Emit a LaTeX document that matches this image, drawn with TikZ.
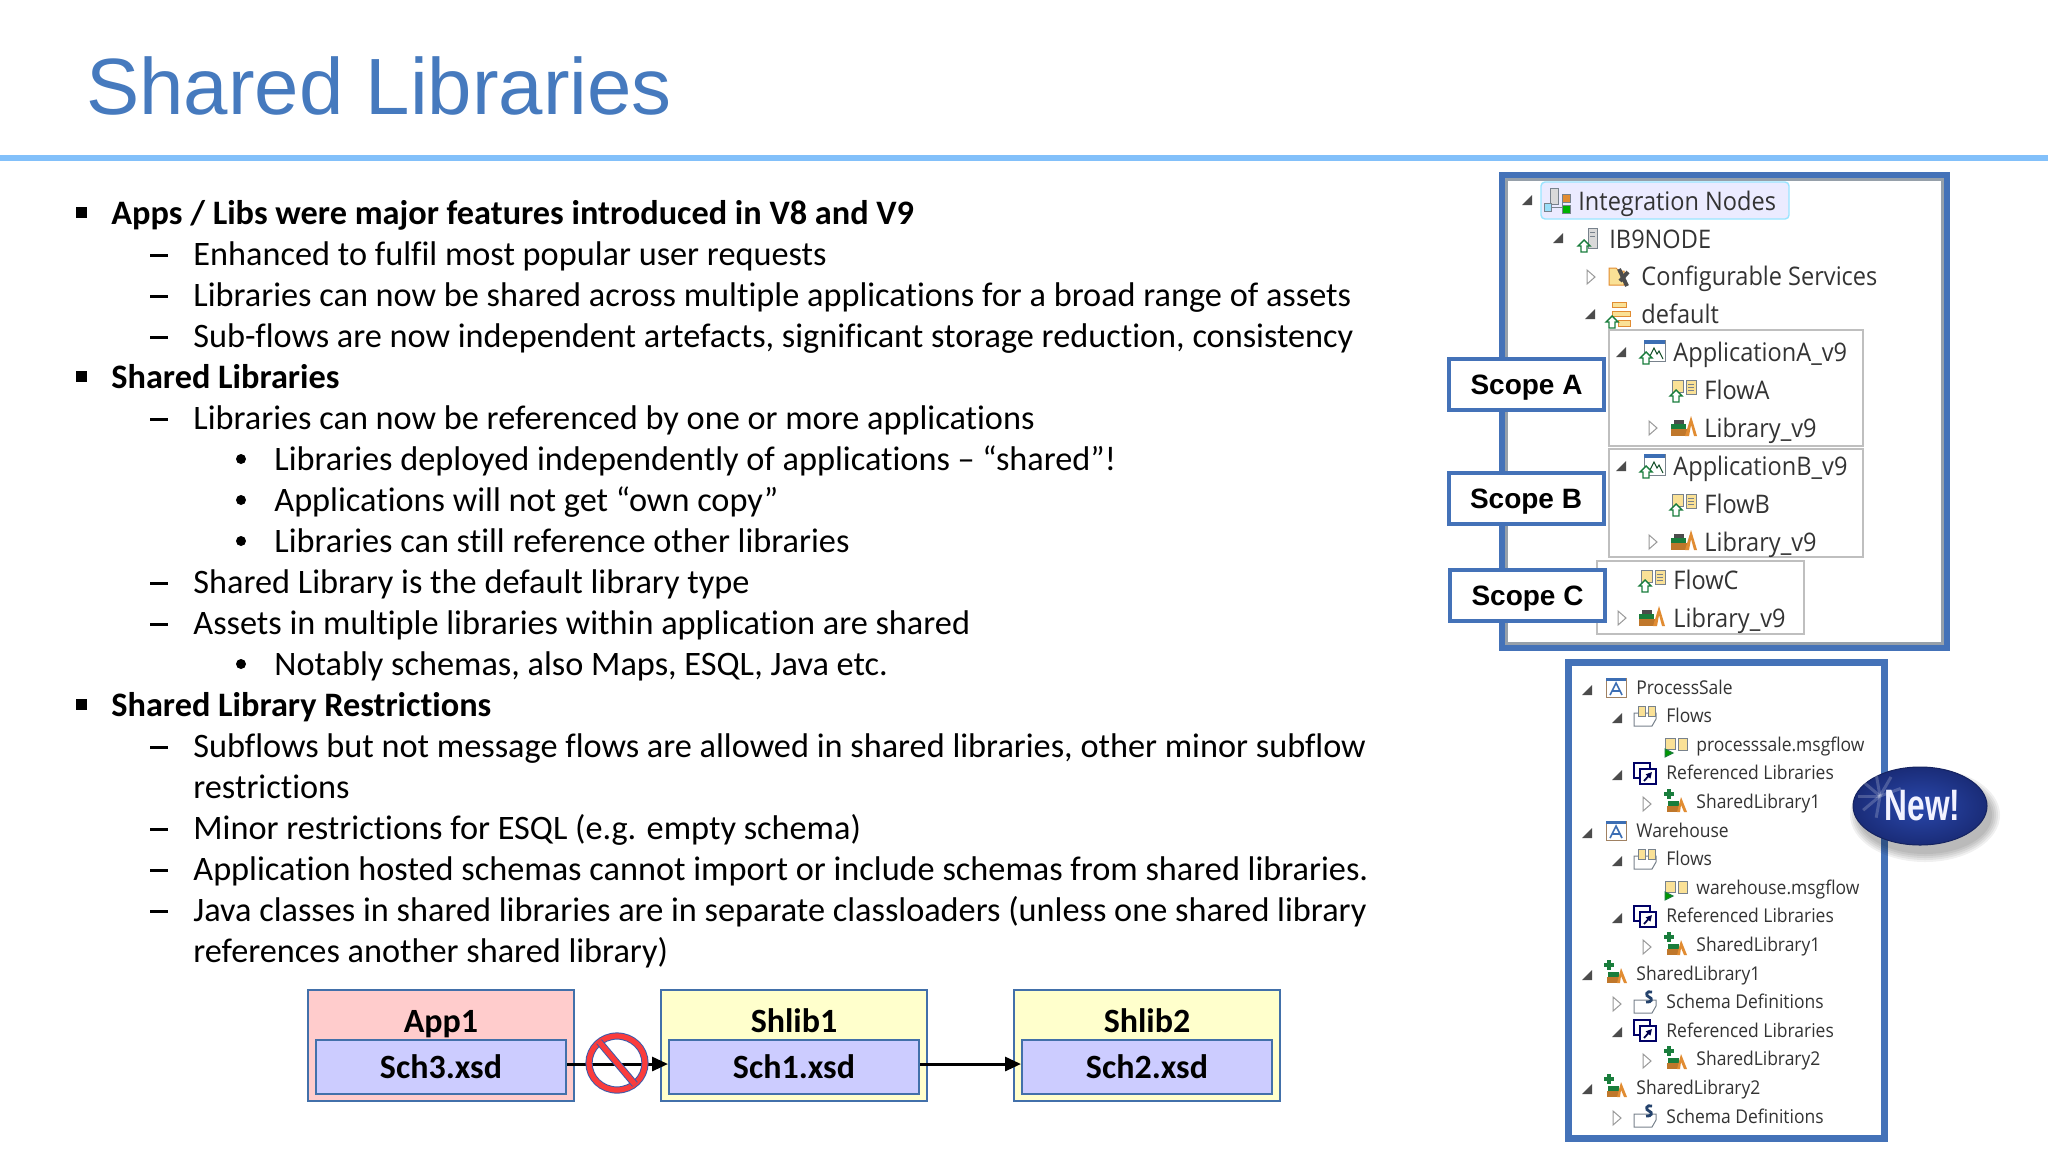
\documentclass[tikz,border=0pt]{standalone}
\usepackage{fontspec}
\usepackage{tikz}
\usetikzlibrary{positioning,arrows.meta,shapes.geometric}
\setmainfont[Ligatures={TeX,NoCommon}]{Carlito}
\newfontfamily\headFont{Liberation Sans}
\newfontfamily\treeFont[FakeStretch=0.92]{Open Sans}
\newfontfamily\badgeFont[FakeStretch=0.72]{Liberation Sans}
\definecolor{titleBlue}{RGB}{70,122,190}
\definecolor{ruleBlue}{RGB}{130,192,250}
\definecolor{frameBlue}{RGB}{68,114,184}
\definecolor{frameGrey}{RGB}{150,160,170}
\definecolor{boxEdge}{RGB}{66,112,170}
\definecolor{appPink}{RGB}{255,204,204}
\definecolor{libYellow}{RGB}{255,255,204}
\definecolor{schemaLilac}{RGB}{204,204,255}
\definecolor{ringRed}{RGB}{250,60,60}
\definecolor{ringBlue}{RGB}{60,90,170}
\definecolor{iconGreen}{RGB}{25,125,60}
\definecolor{iconOrange}{RGB}{225,140,50}
\definecolor{iconYellow}{RGB}{250,225,150}
\definecolor{iconBlue}{RGB}{60,110,180}
\definecolor{iconGrey}{RGB}{120,130,140}
\definecolor{badgeInner}{RGB}{42,72,172}
\definecolor{badgeOuter}{RGB}{26,44,120}
\tikzstyle{slidePixels} = [x=.5pt, y=-.5pt]
\tikzstyle{bodyLine} = [anchor=base west, inner sep=0pt, font=\fontsize{17.14}{20}\selectfont]
\tikzstyle{bodyBold} = [bodyLine, font=\fontsize{17.15}{20}\selectfont\bfseries]
\tikzstyle{topTreeText} = [anchor=base west, inner sep=0pt, text=black!80, font=\treeFont\fontsize{12.8}{15}\selectfont]
\tikzstyle{lowTreeText} = [anchor=base west, inner sep=0pt, text=black!80, font=\treeFont\fontsize{9.5}{12}\selectfont]
\tikzstyle{scopeBox} = [draw=frameBlue, line width=2pt, fill=white, inner sep=0pt, minimum width=77.5pt, minimum height=25.5pt, text depth=0pt, font=\headFont\bfseries\fontsize{14}{16}\selectfont]
\tikzstyle{outerBox} = [draw=boxEdge, line width=1pt, inner sep=0pt, minimum width=133pt, minimum height=55.5pt]
\tikzstyle{schemaBox} = [draw=boxEdge, line width=1pt, fill=schemaLilac, inner sep=0pt, minimum width=125pt, minimum height=27pt, font=\fontsize{17}{20}\selectfont\bfseries]
\tikzstyle{boxTitle} = [inner sep=0pt, text depth=0pt, font=\fontsize{17}{20}\selectfont\bfseries]
\tikzstyle{scopeEdge} = [draw=black!25, line width=.6pt]
\tikzstyle{openMark} = [draw=black!40, fill=white, line width=.5pt]
\tikzstyle{shutMark} = [fill=black!70]
\tikzstyle{iconLine} = [line width=.5pt]
\tikzstyle{dependsArrow} = [line width=1.5pt, -{Triangle[length=8pt,width=7pt]}]
\newcommand{\mainLine}[2]{
  \fill (75.5,{165.5+41*#1}) rectangle +(11,11);
  \node (line#1) [bodyBold] at (111,{183.7+41*#1}) {#2};
}
\newcommand{\subLine}[2]{
  \fill (150,{172+41*#1}) rectangle +(18,2.5);
  \node (line#1) [bodyLine] at (193,{183.7+41*#1}) {#2};
}
\newcommand{\dotLine}[2]{
  \fill (241,{172+41*#1}) circle (5);
  \node (line#1) [bodyLine] at (274,{183.7+41*#1}) {#2};
}
\newcommand{\moreLine}[2]{\node (line#1) [bodyLine] at (193,{183.7+41*#1}) {#2};}
\newcommand{\topRow}[3]{\node (top#1) [topTreeText] at (#2,{172.2+37.9*#1}) {#3};}
\newcommand{\lowRow}[3]{\node (low#1) [lowTreeText] at (#2,{665.5+28.6*#1}) {#3};}
\newcommand{\shutTri}[2]{\fill [shutMark] (#1+5,#2-5) -- (#1+5,#2+5) -- (#1-5,#2+5) -- cycle;}
\newcommand{\openTri}[2]{\filldraw [openMark] (#1-4,#2-7) -- (#1+4,#2) -- (#1-4,#2+7) -- cycle;}
\newcommand{\upMark}[2]{\filldraw [draw=iconGreen, fill=white, line width=.7pt] (#1,#2-6) -- (#1+6,#2) -- (#1+3,#2) -- (#1+3,#2+6) -- (#1-3,#2+6) -- (#1-3,#2) -- (#1-6,#2) -- cycle;}
\newcommand{\nodesIcon}[2]{
  \begin{scope}[shift={(#1,#2)}, iconLine]
    \filldraw [fill=black!15, draw=iconGrey] (-7,-13) rectangle (1,3);
    \draw [iconGrey] (-8,6) -- (5,6) (5,-4) -- (5,10);
    \filldraw [fill=cyan!40, draw=iconGrey] (-13,2) rectangle (-6,10);
    \filldraw [fill=iconOrange, draw=iconGrey] (5,-7) rectangle (13,1);
    \filldraw [fill=green!70!black, draw=iconGrey] (5,4) rectangle (13,12);
  \end{scope}
}
\newcommand{\serverIcon}[2]{
  \begin{scope}[shift={(#1,#2)}, iconLine]
    \filldraw [fill=black!15, draw=iconGrey] (1,-13) rectangle (10,7);
    \draw [iconGrey] (3,-9) -- (8,-9) (3,-5) -- (8,-5);
    \upMark{-3}{5}
  \end{scope}
}
\newcommand{\servicesIcon}[2]{
  \begin{scope}[shift={(#1,#2)}, iconLine]
    \filldraw [fill=iconYellow, draw=iconOrange] (-11,-9) -- (-4,-9) -- (-1,-6) -- (4,-6) -- (4,8) -- (-11,8) -- cycle;
    \draw [black!70, line width=2pt] (-1,-8) -- (7,9) (8,-5) -- (0,4);
  \end{scope}
}
\newcommand{\groupIcon}[2]{
  \begin{scope}[shift={(#1,#2)}, iconLine]
    \filldraw [fill=iconYellow, draw=iconOrange] (-6,-14) rectangle (8,-9);
    \filldraw [fill=iconYellow, draw=iconOrange] (-6,-5) rectangle (12,0);
    \filldraw [fill=iconYellow, draw=iconOrange] (0,4) rectangle (12,10);
    \upMark{-6}{6}
  \end{scope}
}
\newcommand{\appIcon}[2]{
  \begin{scope}[shift={(#1,#2)}, iconLine]
    \filldraw [fill=white, draw=iconGrey] (-8,-13) rectangle (13,8);
    \fill [iconBlue] (-8,-13) rectangle (13,-9);
    \draw [iconGreen!60!black] (-3,5) -- (2,-5) -- (5,1) -- (7,-2) -- (11,6);
    \upMark{-6}{5}
  \end{scope}
}
\newcommand{\flowIcon}[2]{
  \begin{scope}[shift={(#1,#2)}, iconLine]
    \filldraw [fill=iconYellow, draw=iconGrey] (-11,-10) rectangle (0,2);
    \filldraw [fill=iconYellow, draw=iconGrey] (3,-10) rectangle (13,4);
    \draw [iconGrey] (5,-6) -- (11,-6) (5,-3) -- (11,-3) (5,0) -- (11,0);
    \upMark{-7}{6}
  \end{scope}
}
\newcommand{\libIcon}[2]{
  \begin{scope}[shift={(#1,#2)}, iconLine]
    \fill [iconGreen] (-13,-3) rectangle (2,2);
    \fill [black!70] (-10,-7) rectangle (0,-3);
    \fill [iconOrange!85!black] (-13,2) rectangle (4,9);
    \fill [iconOrange] (1,9) -- (7,-11) -- (13,9) -- (10,9) -- (7,-2) -- (5,9) -- cycle;
  \end{scope}
}
\newcommand{\windowIcon}[2]{
  \begin{scope}[shift={(#1,#2)}, iconLine]
    \filldraw [fill=white, draw=iconGrey!70!orange] (-10,-10) rectangle (10,9);
    \fill [iconBlue] (-10,-10) rectangle (10,-7);
    \draw [iconBlue, line width=.8pt] (-6,7) -- (0,-5) -- (6,7) (-4,3) -- (4,3);
  \end{scope}
}
\newcommand{\flowsIcon}[2]{
  \begin{scope}[shift={(#1,#2)}, iconLine]
    \filldraw [fill=white, draw=iconGrey] (-11,10) -- (-11,-3) -- (11,-3) -- (11,3) -- (7,10) -- cycle;
    \filldraw [fill=iconYellow, draw=iconGrey] (-7,-10) rectangle (0,0);
    \filldraw [fill=iconYellow, draw=iconGrey] (3,-10) rectangle (10,0);
  \end{scope}
}
\newcommand{\msgIcon}[2]{
  \begin{scope}[shift={(#1,#2)}, iconLine]
    \filldraw [fill=iconYellow, draw=iconGrey] (-11,-7) rectangle (-1,4);
    \filldraw [fill=iconYellow, draw=iconGrey] (2,-7) rectangle (11,5);
    \filldraw [fill=green!60!black, draw=iconGreen] (-11,4) -- (-3,8) -- (-11,12) -- cycle;
  \end{scope}
}
\newcommand{\refIcon}[2]{
  \begin{scope}[shift={(#1,#2)}, iconLine]
    \filldraw [fill=white, draw=black!60!blue, line width=.9pt] (-11,-11) rectangle (5,4);
    \filldraw [fill=white, draw=black!60!blue, line width=.9pt] (-5,-5) rectangle (11,10);
    \draw [black!70!blue, line width=.9pt, -{Triangle[length=3pt,width=3pt]}] (-1,7) -- (7,-2);
  \end{scope}
}
\newcommand{\sharedIcon}[2]{
  \begin{scope}[shift={(#1,#2)}, iconLine]
    \draw [iconGreen, line width=1.8pt] (-7,-14) -- (-7,-4) (-12,-9) -- (-2,-9);
    \fill [iconGreen] (-8,-2) rectangle (3,3);
    \fill [iconOrange!85!black] (-9,3) rectangle (4,9);
    \fill [iconOrange] (1,9) -- (5,-6) -- (11,9) -- (8,9) -- (5,2) -- (4,9) -- cycle;
  \end{scope}
}
\newcommand{\schemaIcon}[2]{
  \begin{scope}[shift={(#1,#2)}, iconLine]
    \filldraw [fill=white, draw=iconGrey] (-11,10) -- (-11,-3) -- (-4,-3) -- (11,-3) -- (11,3) -- (7,10) -- cycle;
    \draw [iconBlue!60!black, line width=1.4pt] (7,-11) .. controls (1,-13) and (0,-7) .. (4,-6) .. controls (8,-5) and (7,0) .. (1,-1);
  \end{scope}
}
\begin{document}
\begin{tikzpicture}[slidePixels]
  \useasboundingbox (0,0) rectangle (2048,1152);
  \fill [white] (0,0) rectangle (2048,1152);
  % heading
  \node (slideTitle) [anchor=base west, inner sep=0pt, text=titleBlue, font=\headFont\fontsize{39.9}{46}\selectfont] at (86,114) {Shared Libraries};
  \fill [ruleBlue] (0,155) rectangle (2048,161);
  % text lines
  \mainLine{1}{Apps / Libs were major features introduced in V8 and V9}
  \subLine{2}{Enhanced to fulfil most popular user requests}
  \subLine{3}{Libraries can now be shared across multiple applications for a broad range of assets}
  \subLine{4}{Sub-flows are now independent artefacts, significant storage reduction, consistency}
  \mainLine{5}{Shared Libraries}
  \subLine{6}{Libraries can now be referenced by one or more applications}
  \dotLine{7}{Libraries deployed independently of applications -- “shared”!}
  \dotLine{8}{Applications will not get “own copy”}
  \dotLine{9}{Libraries can still reference other libraries}
  \subLine{10}{Shared Library is the default library type}
  \subLine{11}{Assets in multiple libraries within application are shared}
  \dotLine{12}{Notably schemas, also Maps, ESQL, Java etc.}
  \mainLine{13}{Shared Library Restrictions}
  \subLine{14}{Subflows but not message flows are allowed in shared libraries, other minor subflow}
  \moreLine{15}{restrictions}
  \subLine{16}{Minor restrictions for ESQL (e.g. empty schema)}
  \subLine{17}{Application hosted schemas cannot import or include schemas from shared libraries.}
  \subLine{18}{Java classes in shared libraries are in separate classloaders (unless one shared library}
  \moreLine{19}{references another shared library)}
  % schema boxes
  \node (app1Box) [outerBox, fill=appPink, anchor=north west] at (307,989) {};
  \node (shlib1Box) [outerBox, fill=libYellow, anchor=north west] at (660,989) {};
  \node (shlib2Box) [outerBox, fill=libYellow, anchor=north west] at (1013,989) {};
  \node (sch3Box) [schemaBox, above=3.5pt of app1Box.south] {Sch3.xsd};
  \node (sch1Box) [schemaBox, above=3.5pt of shlib1Box.south] {Sch1.xsd};
  \node (sch2Box) [schemaBox, above=3.5pt of shlib2Box.south] {Sch2.xsd};
  \node (app1Title) [boxTitle, above=3.2pt of sch3Box.north] {App1};
  \node (shlib1Title) [boxTitle, above=3.2pt of sch1Box.north] {Shlib1};
  \node (shlib2Title) [boxTitle, above=3.2pt of sch2Box.north] {Shlib2};
  \draw [dependsArrow] ([yshift=1.5pt]sch3Box.east) -- ([yshift=1.5pt]sch1Box.west);
  \draw [dependsArrow] ([yshift=1.5pt]sch1Box.east) -- ([yshift=1.5pt]sch2Box.west);
  \node (noEntry) [ellipse, draw=ringBlue, double=ringRed, double distance=2.6pt, line width=.5pt, inner sep=0pt, minimum width=28pt, minimum height=27pt] at (617,1063) {};
  \draw [draw=ringBlue, double=ringRed, double distance=2.6pt, line width=.5pt] (noEntry.130) -- (noEntry.-50);
  % upper tree
  \draw [line width=3pt, frameBlue] (1502,175) rectangle (1947,648);
  \draw [line width=1.2pt, frameGrey] (1506.5,179.5) rectangle (1942.5,643.5);
  \draw [scopeEdge] (1609,330) rectangle (1863,446);
  \draw [scopeEdge] (1609,449) rectangle (1863,557);
  \draw [scopeEdge] (1597,561) rectangle (1804,634);
  \filldraw [fill=blue!8, draw=blue!25!cyan!40, line width=.7pt, rounded corners=2pt] (1541,182) rectangle (1789,219);
  \topRow{1}{1578}{Integration Nodes}
  \topRow{2}{1609}{IB9NODE}
  \topRow{3}{1641}{Configurable Services}
  \topRow{4}{1641}{default}
  \topRow{5}{1673}{ApplicationA\_v9}
  \topRow{6}{1704}{FlowA}
  \topRow{7}{1704}{Library\_v9}
  \topRow{8}{1673}{ApplicationB\_v9}
  \topRow{9}{1704}{FlowB}
  \topRow{10}{1704}{Library\_v9}
  \topRow{11}{1673}{FlowC}
  \topRow{12}{1673}{Library\_v9}
  \shutTri{1527}{200}
  \shutTri{1558}{238}
  \shutTri{1590}{314}
  \shutTri{1621}{352}
  \shutTri{1621}{466}
  \openTri{1591}{277}
  \openTri{1653}{428}
  \openTri{1653}{542}
  \openTri{1622}{618}
  \nodesIcon{1557}{201}
  \serverIcon{1587}{241}
  \servicesIcon{1620}{277}
  \groupIcon{1618}{316}
  \appIcon{1652}{353}
  \flowIcon{1683}{390}
  \libIcon{1684}{427}
  \appIcon{1652}{467}
  \flowIcon{1683}{504}
  \libIcon{1684}{541}
  \flowIcon{1652}{580}
  \libIcon{1652}{617}
  \node (scopeA) [scopeBox] at (1526.5,384.5) {Scope A};
  \node (scopeB) [scopeBox] at (1526,498.5) {Scope B};
  \node (scopeC) [scopeBox] at (1527.5,595.5) {Scope C};
  % lower tree
  \draw [line width=3.5pt, frameBlue] (1568.5,662.5) rectangle (1884.5,1138.5);
  \lowRow{1}{1636}{ProcessSale}
  \lowRow{2}{1666}{Flows}
  \lowRow{3}{1696}{processsale.msgflow}
  \lowRow{4}{1666}{Referenced Libraries}
  \lowRow{5}{1696}{SharedLibrary1}
  \lowRow{6}{1636}{Warehouse}
  \lowRow{7}{1666}{Flows}
  \lowRow{8}{1696}{warehouse.msgflow}
  \lowRow{9}{1666}{Referenced Libraries}
  \lowRow{10}{1696}{SharedLibrary1}
  \lowRow{11}{1636}{SharedLibrary1}
  \lowRow{12}{1666}{Schema Definitions}
  \lowRow{13}{1666}{Referenced Libraries}
  \lowRow{14}{1696}{SharedLibrary2}
  \lowRow{15}{1636}{SharedLibrary2}
  \lowRow{16}{1666}{Schema Definitions}
  \foreach \markX/\markY in {1587/690,1617/718,1617/775,1587/833,1617/861,1617/918,1587/975,1617/1032,1587/1089} {
    \shutTri{\markX}{\markY}
  }
  \foreach \markX/\markY in {1647/804,1647/947,1617/1004,1647/1061,1617/1118} {
    \openTri{\markX}{\markY}
  }
  \windowIcon{1616}{688}
  \flowsIcon{1645}{716}
  \msgIcon{1676}{745}
  \refIcon{1645}{774}
  \sharedIcon{1676}{803}
  \windowIcon{1616}{831}
  \flowsIcon{1645}{859}
  \msgIcon{1676}{888}
  \refIcon{1645}{917}
  \sharedIcon{1676}{946}
  \sharedIcon{1616}{974}
  \schemaIcon{1645}{1003}
  \refIcon{1645}{1031}
  \sharedIcon{1676}{1060}
  \sharedIcon{1616}{1088}
  \schemaIcon{1645}{1117}
  % new badge
  \foreach \shadowGrow in {9,7,5,3,1} {
    \fill [black, opacity=.06] (1925,815) ellipse ({66+\shadowGrow} and {38+\shadowGrow});
  }
  \node (newBadge) [ellipse, inner sep=0pt, minimum width=67pt, minimum height=39pt, draw=badgeOuter!80!black, line width=.5pt, shading=radial, inner color=badgeInner, outer color=badgeOuter] at (1920,806) {};
  \foreach \rayAngle in {100,140,180,220,260,300,340} {
    \draw [white, opacity=.2, line width=1.5pt] (1880,796) -- +(\rayAngle:22);
  }
  \node (newText) [inner sep=0pt, xshift=1.3pt, text=white!95!blue, font=\badgeFont\bfseries\fontsize{22}{24}\selectfont] at (newBadge) {New!};
\end{tikzpicture}
\end{document}
